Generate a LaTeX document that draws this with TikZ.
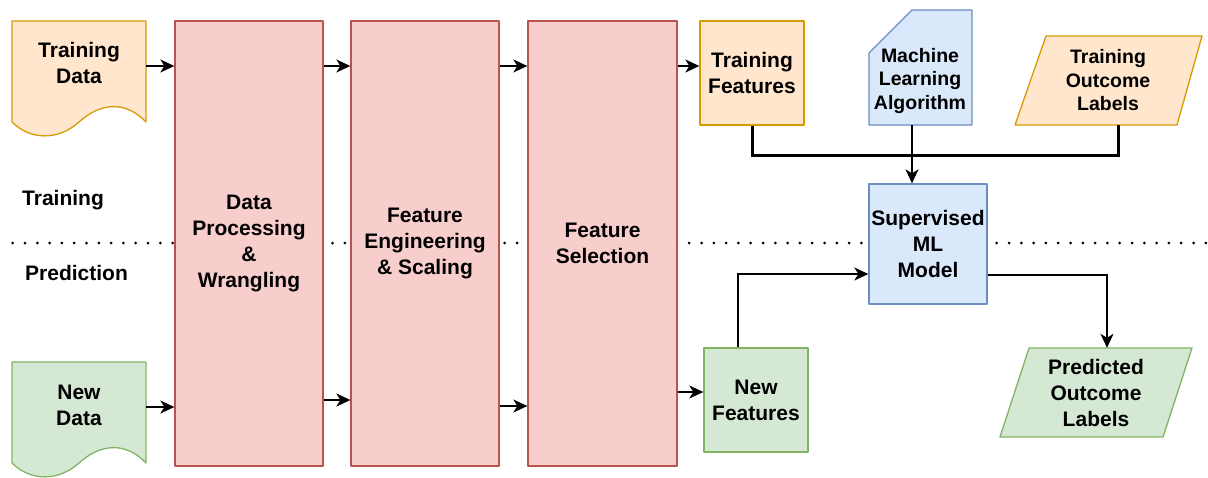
\documentclass[tikz,border=0pt]{standalone}
\usepackage{fontspec}
\setmainfont{Liberation Sans}
\usetikzlibrary{arrows.meta}

\definecolor{orfill}{HTML}{FFE6CC}
\definecolor{ordraw}{HTML}{D79B00}
\definecolor{pkfill}{HTML}{F8CECC}
\definecolor{pkdraw}{HTML}{B85450}
\definecolor{blfill}{HTML}{DAE8FC}
\definecolor{bldraw}{HTML}{6C8EBF}
\definecolor{grfill}{HTML}{D5E8D4}
\definecolor{grdraw}{HTML}{82B366}

\tikzset{
  lbl/.style={font=\fontsize{21}{26}\selectfont\bfseries, align=center, inner sep=0pt},
  lblsm/.style={font=\fontsize{19.5}{23.5}\selectfont\bfseries, align=center, inner sep=0pt},
  shapeline/.style={line width=1.3pt, line join=round},
  orange/.style={shapeline, draw=ordraw, fill=orfill},
  pink/.style={shapeline, draw=pkdraw, fill=pkfill},
  blue/.style={shapeline, draw=bldraw, fill=blfill},
  green/.style={shapeline, draw=grdraw, fill=grfill},
  procbox/.style={pink, lbl, minimum width=148pt, minimum height=445pt},
  arr/.style={-{Stealth[length=14pt,width=13pt,inset=4pt]}, line width=1.5pt},
  heavy/.style={line width=3pt},
  phase/.style={font=\fontsize{21}{26}\selectfont\bfseries, inner sep=0pt},
}

\begin{document}
\begin{tikzpicture}[x=1pt,y=-1pt]
\useasboundingbox (0,0) rectangle (1208,477);

% dotted line separating the training and prediction phases
\draw[line width=3pt, line cap=round, dash pattern=on 0pt off 12.3pt] (12.7,243) -- (1206,243);
\node[phase, anchor=west] (trainlbl) at (22,200) {Training};
\node[phase, anchor=west] (predlbl) at (25,273) {Prediction};

% input documents
\draw[orange] (12,21) -- (146,21) -- (146,122)
  .. controls (125,100) and (100,103) .. (79,122)
  .. controls (58,141) and (30,140) .. (12,122) -- cycle;
\node[lbl, minimum width=134pt] (td) at (79,63) {Training\\Data};

\draw[green] (12,362) -- (146,362) -- (146,463)
  .. controls (125,441) and (100,444) .. (79,463)
  .. controls (58,482) and (30,481) .. (12,463) -- cycle;
\node[lbl, minimum width=134pt] (nd) at (79,405) {New\\Data};

% processing stages
\node[procbox] (dp) at (249,243.5) {Data\\Processing\\\&\\Wrangling};
\node[procbox] (fe) at (425,243.5) {Feature\\Engineering\\\& Scaling};
\node[procbox, minimum width=149pt] (fs) at (602.5,243.5) {Feature\\Selection};

% feature sets
\node[orange, lbl, minimum width=104pt, minimum height=104pt] (tf) at (752,73) {Training\\Features};
\node[green, lbl, minimum width=104pt, minimum height=104pt] (nf) at (756,400) {New\\Features};

% machine learning algorithm (card)
\draw[blue] (869,53) -- (912,10) -- (972,10) -- (972,125) -- (869,125) -- cycle;
\node[lblsm, minimum width=103pt] (mla) at (920,80.5) {Machine\\Learning\\Algorithm};
\coordinate (mlabot) at (912,125);

% training outcome labels (parallelogram)
\draw[orange] (1015,125) -- (1046,36) -- (1202,36) -- (1177,125) -- cycle;
\node[lblsm, minimum width=150pt, minimum height=89pt] (tol) at (1108,80.5) {Training\\Outcome\\Labels};

% model
\node[blue, lbl, minimum width=118pt, minimum height=120pt] (sup) at (928,244) {Supervised\\ML\\Model};

% predicted outcome labels (parallelogram)
\draw[green] (1000,437) -- (1029,348) -- (1192,348) -- (1163,437) -- cycle;
\node[lbl, minimum width=150pt, minimum height=89pt] (pred) at (1096,392.5) {Predicted\\Outcome\\Labels};

% training flow
\draw[arr] (td.east |- 0,66) -- (dp.west |- 0,66);
\draw[arr] (dp.east |- 0,66) -- (fe.west |- 0,66);
\draw[arr] (fe.east |- 0,66) -- (fs.west |- 0,66);
\draw[arr] (fs.east |- 0,66) -- (tf.west |- 0,66);

% prediction flow
\draw[arr] (nd.east |- 0,407) -- (dp.west |- 0,407);
\draw[arr] (dp.east |- 0,400) -- (fe.west |- 0,400);
\draw[arr] (fe.east |- 0,406) -- (fs.west |- 0,406);
\draw[arr] (fs.east |- 0,392) -- (nf.west |- 0,392);

% model inputs and output
\draw[heavy] (tf.south) -- ++(0,30) -| (1118,0 |- tol.south);
\draw[arr] (mlabot) -- (mlabot |- sup.north);
\draw[arr] (738,0 |- nf.north) |- (sup.west |- 0,274);
\draw[arr] (sup.east |- 0,275) -| (1107,0 |- pred.north);
\end{tikzpicture}
\end{document}
